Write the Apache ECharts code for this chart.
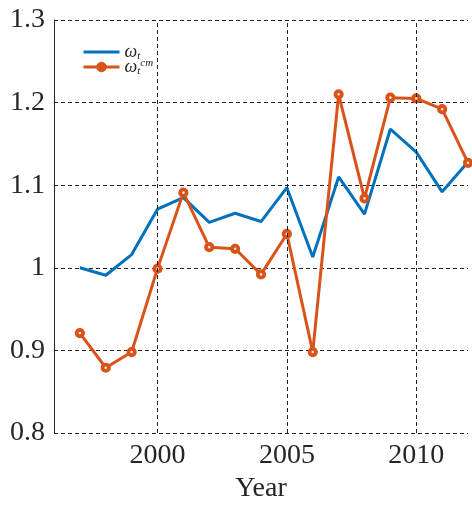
<!DOCTYPE html>
<html>
<head>
<meta charset="utf-8">
<script src="https://cdn.jsdelivr.net/npm/echarts@6/dist/echarts.min.js"></script>
<style>
  html, body { margin: 0; padding: 0; background: #fff; }
  #chart { width: 472px; height: 508px; }
</style>
</head>
<body>
<div id="chart"></div>
<script>
// Yearly series
const years = [1997, 1998, 1999, 2000, 2001, 2002, 2003, 2004, 2005, 2006, 2007, 2008, 2009, 2010, 2011, 2012];
const omega = [1.000, 0.991, 1.016, 1.071, 1.085, 1.055, 1.066, 1.056, 1.097, 1.013, 1.110, 1.065, 1.168, 1.140, 1.092, 1.128];
const omegaCm = [0.921, 0.879, 0.898, 0.999, 1.091, 1.025, 1.023, 0.992, 1.041, 0.898, 1.210, 1.084, 1.206, 1.205, 1.192, 1.127];

// Axis ticks
const xTicks = [2000, 2005, 2010];
const yTicks = [0.8, 0.9, 1.0, 1.1, 1.2, 1.3];

const serif = '"Liberation Serif", "DejaVu Serif", serif';
const gridLine = { color: '#222', width: 1, type: [4, 3] };
const blue = '#0072BD';
const orange = '#D95319';

const chart = echarts.init(document.getElementById('chart'), null, { renderer: 'canvas' });

chart.setOption({
  animation: false,
  grid: { left: 54, right: 4, top: 20, bottom: 74, containLabel: false },
  legend: {
    orient: 'vertical',
    left: 77,
    top: 38,
    itemWidth: 36,
    itemHeight: 12,
    itemGap: -4,
    data: [
      { name: 'w', itemStyle: { opacity: 0 }, lineStyle: { width: 3 } },
      { name: 'wcm', itemStyle: { color: orange, borderColor: orange, borderWidth: 1 }, lineStyle: { width: 3 } }
    ],
    formatter: function (name) {
      return name === 'w'
        ? '{w|ω}{sub|t}'
        : '{w|ω}{sub|t}{sup|cm}';
    },
    textStyle: {
      fontFamily: serif,
      color: '#222',
      rich: {
        w: { fontFamily: serif, fontStyle: 'italic', fontSize: 18, color: '#222', lineHeight: 19, verticalAlign: 'middle' },
        sub: { fontFamily: serif, fontStyle: 'italic', fontSize: 11, color: '#222', lineHeight: 19, verticalAlign: 'bottom' },
        sup: { fontFamily: serif, fontStyle: 'italic', fontSize: 11, color: '#222', lineHeight: 19, verticalAlign: 'top' }
      }
    }
  },
  xAxis: {
    type: 'value',
    min: 1996,
    max: 2012,
    name: 'Year',
    nameLocation: 'middle',
    nameGap: 42,
    nameTextStyle: { fontFamily: serif, fontSize: 28, color: '#262626' },
    axisLine: { show: false },
    axisTick: { show: false },
    splitLine: { show: false },
    axisLabel: {
      customValues: xTicks,
      margin: 9,
      fontFamily: serif,
      fontSize: 28,
      color: '#262626',
      formatter: v => String(v)
    }
  },
  yAxis: {
    type: 'value',
    min: yTicks[0],
    max: yTicks[yTicks.length - 1],
    interval: 0.1,
    axisLine: { show: true, lineStyle: { color: '#262626', width: 1 } },
    axisTick: { show: false },
    splitLine: { show: true, lineStyle: gridLine },
    axisLabel: {
      margin: 9,
      fontFamily: serif,
      fontSize: 28,
      color: '#262626',
      formatter: v => String(Math.round(v * 10) / 10)
    }
  },
  series: [
    {
      name: 'w',
      type: 'line',
      data: years.map((y, i) => [y, omega[i]]),
      showSymbol: false,
      symbol: 'none',
      lineStyle: { color: blue, width: 3 },
      itemStyle: { color: blue },
      z: 3,
      markLine: {
        silent: true,
        symbol: 'none',
        label: { show: false },
        lineStyle: gridLine,
        data: xTicks.map(v => ({ xAxis: v }))
      }
    },
    {
      name: 'wcm',
      type: 'line',
      data: years.map((y, i) => [y, omegaCm[i]]),
      symbol: 'circle',
      symbolSize: 6.4,
      lineStyle: { color: orange, width: 3 },
      itemStyle: { color: '#fbe3d8', borderColor: orange, borderWidth: 3.8 },
      z: 4
    }
  ]
});
</script>
</body>
</html>
